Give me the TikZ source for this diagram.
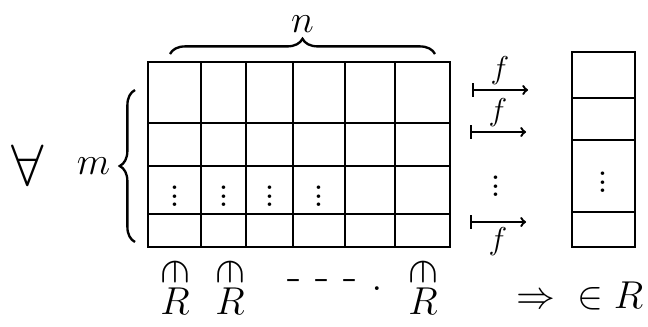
\documentclass[tikz,border=0pt]{standalone}
\usepackage{graphicx}
\usetikzlibrary{decorations.pathreplacing}
\begin{document}
\begin{tikzpicture}[x=0.03cm,y=-0.03cm,line width=2pt,
  lbl/.style={font=\huge,scale=1.6,inner sep=1pt},
  sml/.style={font=\huge,scale=1.3,inner sep=1pt},
  dts/.style={font=\huge,scale=1.8,inner sep=0pt},
  brc/.style={decorate,decoration={brace,amplitude=13pt}}]
\useasboundingbox (0,0) rectangle (648,326);

\draw (148,62) rectangle (450,247);
\foreach \x in {201,246,293,345,395} \draw (\x,62) -- (\x,247);
\foreach \y in {123,166,214} \draw (148,\y) -- (450,\y);
\foreach \x in {175,224,270,319} \node[dts] (dots\x) at (\x,190) {$\vdots$};

\draw[brc] (170,54) -- (435,54) node[midway,above=15pt,lbl] (n) {$n$};
\draw[brc] (135,242) -- (135,90) node[midway,left=18pt,lbl] (m) {$m$};
\node[font=\huge,scale=2.4] (forall) at (28,165) {$\forall$};

\coordinate (a1) at (472,90);  \coordinate (b1) at (528,90);
\coordinate (a2) at (470,132); \coordinate (b2) at (526,132);
\coordinate (a3) at (470,222); \coordinate (b3) at (526,222);
\draw[|->] (a1) -- (b1) node[midway,above=2pt,sml] (f1) {$f$};
\draw[|->] (a2) -- (b2) node[midway,above=2pt,sml] (f2) {$f$};
\draw[|->] (a3) -- (b3) node[midway,below=2pt,sml] (f3) {$f$};
\node[dts] (fdots) at (496,180) {$\vdots$};

\draw (572,52) rectangle (635,247);
\foreach \y in {98,140,212} \draw (572,\y) -- (635,\y);
\node[dts] (coldots) at (603,176) {$\vdots$};

\foreach \x in {175,230,423} {
  \node[font=\huge,scale=1.8,inner sep=0pt] (in\x) at (\x,272) {\rotatebox{-90}{$\in$}};
  \node[lbl] (R\x) at (\x,301) {$R$};
}
\node[font=\huge,scale=1.9] (dashes) at (335,285) {- - - .};
\node[lbl] (result) at (580,296) {$\Rightarrow{}\in R$};
\end{tikzpicture}
\end{document}
